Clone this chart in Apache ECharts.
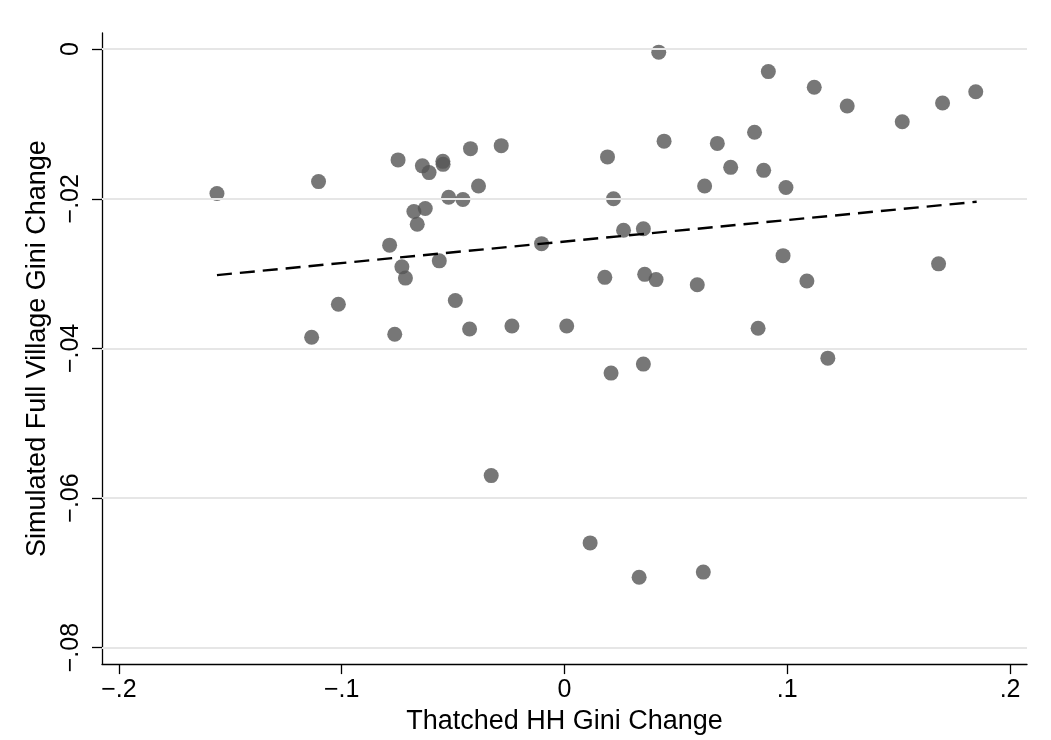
<!DOCTYPE html>
<html>
<head>
<meta charset="utf-8">
<script src="https://cdn.jsdelivr.net/npm/echarts@6/dist/echarts.min.js"></script>
<style>html,body{margin:0;padding:0;background:#fff}#c{width:1051px;height:740px}</style>
</head>
<body>
<div id="c"></div>
<script>
const xValues = [-0.156,-0.1104,-0.0747,-0.0638,-0.0608,-0.0546,-0.0545,-0.0422,-0.0284,-0.0676,
  -0.0625,-0.0661,-0.052,-0.0456,-0.0386,-0.0785,-0.073,-0.0714,-0.0562,-0.1015,
  -0.1135,-0.0762,-0.049,-0.0426,-0.0236,0.001,-0.0103,0.0423,0.0193,0.0447,
  0.0686,0.0629,0.022,0.0265,0.0354,0.0181,0.036,0.0411,0.0596,0.0915,
  0.1121,0.1269,0.1516,0.1697,0.1846,0.0853,0.0746,0.0894,0.0994,0.0981,
  0.1088,0.1679,0.0869,0.1182,-0.0329,0.0115,0.0209,0.0354,0.0335,0.0623];
const yValues = [-0.0193,-0.0177,-0.0148,-0.0156,-0.0165,-0.0150,-0.0154,-0.0133,-0.0129,-0.0217,
  -0.0213,-0.0234,-0.0198,-0.0201,-0.0183,-0.0262,-0.0291,-0.0306,-0.0283,-0.0341,
  -0.0385,-0.0381,-0.0336,-0.0374,-0.0370,-0.0370,-0.0260,-0.0004,-0.0144,-0.0123,
  -0.0126,-0.0183,-0.0200,-0.0242,-0.0240,-0.0305,-0.0301,-0.0308,-0.0315,-0.0030,
  -0.0051,-0.0076,-0.0097,-0.0072,-0.0057,-0.0111,-0.0158,-0.0162,-0.0185,-0.0276,
  -0.0310,-0.0287,-0.0373,-0.0413,-0.0570,-0.0660,-0.0433,-0.0421,-0.0706,-0.0699];
const fitX = [-0.156, 0.185];
const fitY = [-0.0302, -0.0204];
const xTickValues = [-0.2,-0.1,0,0.1,0.2];
const xTickLabels = ['\u2212.2','\u2212.1','0','.1','.2'];
const yTickValues = [-0.08,-0.06,-0.04,-0.02,0];
const yTickLabels = ['\u2212.08','\u2212.06','\u2212.04','\u2212.02','0'];
const xTitle = 'Thatched HH Gini Change';
const yTitle = 'Simulated Full Village Gini Change';

const FONT = "'Liberation Sans', Arial, Helvetica, sans-serif";
function lab(vals, labels){
  return function(v){
    for (let i=0;i<vals.length;i++){ if (Math.abs(vals[i]-v) < 1e-9) return labels[i]; }
    return '';
  };
}
const chart = echarts.init(document.getElementById('c'), null, {renderer:'canvas'});
const points = xValues.map((x,i)=>[x, yValues[i]]);
chart.setOption({
  backgroundColor:'#ffffff',
  animation:false,
  grid:{left:102,right:24,top:33,bottom:71,containLabel:false},
  xAxis:{
    type:'value', min:-0.2076, max:0.2076,
    name:xTitle, nameLocation:'middle', nameGap:40,
    nameTextStyle:{fontFamily:FONT,fontSize:27,color:'#000'},
    axisLine:{onZero:false,lineStyle:{color:'#000',width:1.3}},
    axisTick:{show:true,length:10,inside:false,customValues:xTickValues,lineStyle:{color:'#000',width:1.3}},
    axisLabel:{customValues:xTickValues,formatter:lab(xTickValues,xTickLabels),fontFamily:FONT,fontSize:25,color:'#000',margin:14},
    splitLine:{show:false}
  },
  yAxis:{
    type:'value', min:-0.0822, max:0.00216,
    name:yTitle, nameLocation:'middle', nameGap:49,
    nameTextStyle:{fontFamily:FONT,fontSize:27,color:'#000'},
    axisLine:{onZero:false,lineStyle:{color:'#000',width:1.3}},
    axisTick:{show:true,length:10,customValues:yTickValues,lineStyle:{color:'#000',width:1.3}},
    axisLabel:{customValues:yTickValues,formatter:lab(yTickValues,yTickLabels),rotate:90,fontFamily:FONT,fontSize:25,color:'#000',margin:18},
    splitLine:{show:false}
  },
  series:[
    {
      type:'scatter', data:[], z:1, silent:true,
      markLine:{
        silent:true, symbol:['none','none'], label:{show:false},
        lineStyle:{color:'#e6e6e6',width:1.8,type:'solid'},
        data:yTickValues.map(v=>({yAxis:v}))
      }
    },
    {
      type:'scatter', data:points, symbol:'circle', symbolSize:15, z:3,
      itemStyle:{color:'#555555'}
    },
    {
      type:'line', data:[[fitX[0],fitY[0]],[fitX[1],fitY[1]]], symbol:'none', z:4,
      lineStyle:{color:'#000',width:2.4,type:[15,8]}
    }
  ]
});
</script>
</body>
</html>
